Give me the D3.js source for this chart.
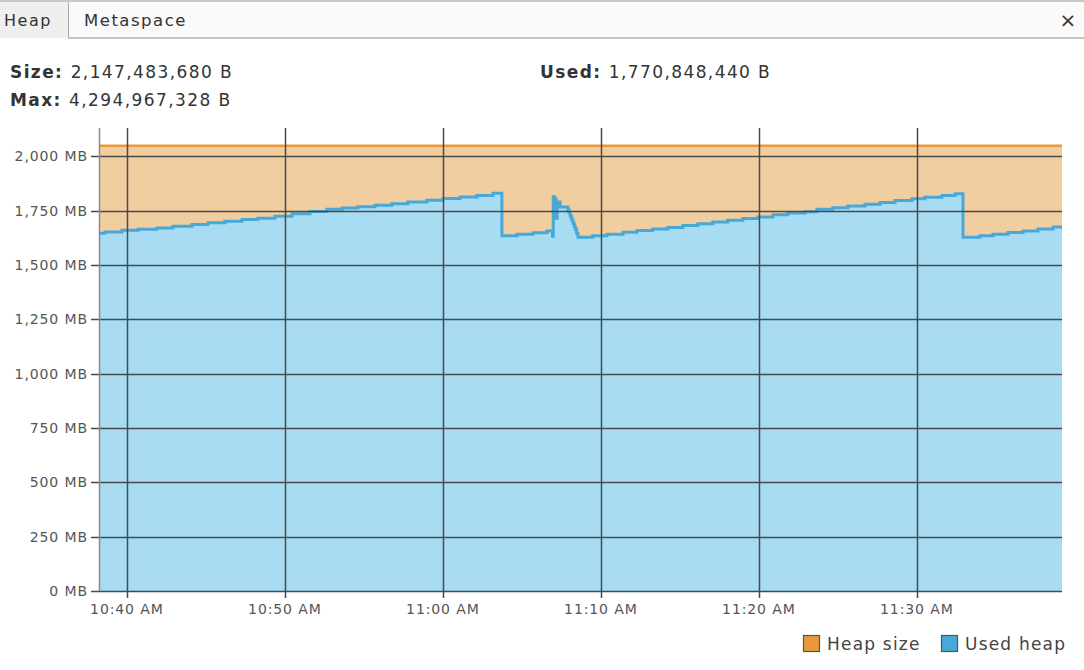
<!DOCTYPE html>
<html lang="en">
<head>
<meta charset="UTF-8">
<title>Heap</title>
<script src="https://cdn.jsdelivr.net/npm/d3@7"></script>
<style>
body {
    margin: 0;
    background: #fff;
    font-family: 'DejaVu Sans', Verdana, sans-serif;
    color: #333;
}
svg { display: block; }
</style>
</head>
<body>
<svg id="chart" width="1084" height="670"></svg>
<script>
// heap summary
const heapSizeBytes = "2,147,483,680 B";
const heapMaxBytes = "4,294,967,328 B";
const heapUsedBytes = "1,770,848,440 B";

const yTicks = [0, 250, 500, 750, 1000, 1250, 1500, 1750, 2000];
const xTickLabels = ["10:40:00", "10:50:00", "11:00:00", "11:10:00", "11:20:00", "11:30:00"];

const heapSizeMB = 2048;

// used heap samples (step after), MB
const usedTimes = [
  "10:38:14", "10:38:37", "10:39:41", "10:40:42", "10:41:54", "10:42:55", "10:44:07",
  "10:45:08", "10:46:12", "10:47:17", "10:48:17", "10:49:22", "10:50:27", "10:51:35",
  "10:52:39", "10:53:37", "10:54:37", "10:55:42", "10:56:46", "10:57:47", "10:58:59",
  "11:00:00", "11:01:05", "11:02:09", "11:03:10", "11:03:44", "11:04:41", "11:05:42",
  "11:06:35", "11:06:56", "11:06:59", "11:07:03", "11:07:06", "11:07:10", "11:07:14",
  "11:07:25", "11:07:51", "11:07:55", "11:07:59", "11:08:03", "11:08:07", "11:08:11",
  "11:08:15", "11:08:19", "11:08:23", "11:08:28", "11:08:33",
  "11:09:29", "11:10:23", "11:11:24", "11:12:17", "11:13:17", "11:14:14", "11:15:11",
  "11:16:08", "11:17:05", "11:18:02", "11:18:59", "11:19:56", "11:20:53", "11:21:50",
  "11:22:55", "11:23:40", "11:24:41", "11:25:38", "11:26:43", "11:27:40", "11:28:37",
  "11:29:41", "11:30:30", "11:31:35", "11:32:25", "11:32:55", "11:33:59", "11:34:49",
  "11:35:46", "11:36:43", "11:37:40", "11:38:37", "11:39:11"
];
const usedMB = [
  1646, 1652, 1660, 1664, 1670, 1678, 1686,
  1694, 1701, 1709, 1715, 1724, 1736, 1746,
  1756, 1762, 1768, 1775, 1782, 1790, 1798,
  1806, 1812, 1820, 1830, 1634, 1641, 1648,
  1656, 1632, 1814, 1720, 1805, 1715, 1790,
  1767, 1767, 1754, 1741, 1728, 1715, 1702,
  1689, 1676, 1663, 1645, 1627,
  1634, 1641, 1650, 1658, 1665, 1672, 1682,
  1689, 1698, 1706, 1714, 1721, 1731, 1739,
  1745, 1756, 1763, 1771, 1779, 1787, 1796,
  1804, 1811, 1819, 1828, 1627, 1634, 1641,
  1649, 1656, 1665, 1674, 1674
];

const parse = d3.timeParse("%H:%M:%S");
const used = usedTimes.map((t, i) => ({ t: parse(t), v: usedMB[i] }));

const svg = d3.select("#chart");
const W = 1084;

// tab bar
svg.append("rect").attr("x", 0).attr("y", 0).attr("width", W).attr("height", 38)
    .attr("fill", "#fafafa");
svg.append("line").attr("x1", 0).attr("x2", W).attr("y1", 1).attr("y2", 1)
    .attr("stroke", "#c8c8c8").attr("stroke-width", 2);
svg.append("rect").attr("x", 0).attr("y", 2).attr("width", 68).attr("height", 36)
    .attr("fill", "#efefef");
svg.append("line").attr("x1", 68.5).attr("x2", 68.5).attr("y1", 2).attr("y2", 38)
    .attr("stroke", "#a8a8a8");
svg.append("line").attr("x1", 68).attr("x2", W).attr("y1", 38).attr("y2", 38)
    .attr("stroke", "#b0b0b0").attr("stroke-width", 1.5);
svg.append("text").attr("x", 4).attr("y", 26).attr("font-size", 16).attr("letter-spacing", 1.5)
    .attr("fill", "#333").text("Heap");
svg.append("text").attr("x", 84).attr("y", 26).attr("font-size", 16.5).attr("letter-spacing", 1.5)
    .attr("fill", "#333").text("Metaspace");
svg.append("text").attr("x", 1068).attr("y", 27).attr("font-size", 20)
    .attr("text-anchor", "middle").attr("fill", "#333").text("\u00d7");

// summary lines
function stat(x, y, label, value) {
  const t = svg.append("text").attr("x", x).attr("y", y).attr("font-size", 17)
      .attr("letter-spacing", 1.4).attr("fill", "#333");
  t.append("tspan").attr("font-weight", "bold").text(label + " ");
  t.append("tspan").text(value);
}
stat(10, 78, "Size:", heapSizeBytes);
stat(10, 106, "Max:", heapMaxBytes);
stat(540, 78, "Used:", heapUsedBytes);

// scales
const x0 = 99, x1 = 1062, yTop = 128, yBot = 591;
const x = d3.scaleTime().domain([parse("10:38:14"), parse("11:39:11")]).range([x0, x1]);
const y = d3.scaleLinear().domain([0, 2130]).range([yBot, yTop]);

const plot = svg.append("g");

// heap size area
plot.append("rect").attr("x", x0).attr("width", x1 - x0)
    .attr("y", y(heapSizeMB)).attr("height", yBot - y(heapSizeMB))
    .attr("fill", "#f0cea0");

// used heap
const area = d3.area().curve(d3.curveStepAfter)
    .x(d => x(d.t)).y0(yBot).y1(d => y(d.v));
const line = d3.line().curve(d3.curveStepAfter)
    .x(d => x(d.t)).y(d => y(d.v));
plot.append("path").datum(used).attr("d", area).attr("fill", "#a8dcf2");
plot.append("path").datum(used).attr("d", line).attr("fill", "none")
    .attr("stroke", "#48a8d8").attr("stroke-width", 3);

// heap size line
plot.append("line").attr("x1", x0).attr("x2", x1)
    .attr("y1", y(heapSizeMB)).attr("y2", y(heapSizeMB))
    .attr("stroke", "#e89a3c").attr("stroke-width", 2.5);

// grid
const xTicks = xTickLabels.map(parse);
plot.selectAll(".hg").data(yTicks).join("line").attr("class", "hg")
    .attr("x1", x0 - 8).attr("x2", x1)
    .attr("y1", d => Math.round(y(d)) + 0.5).attr("y2", d => Math.round(y(d)) + 0.5)
    .attr("stroke", "#4a4a4a").attr("stroke-width", 1.5);
plot.selectAll(".vg").data(xTicks).join("line").attr("class", "vg")
    .attr("x1", d => Math.round(x(d)) + 0.5).attr("x2", d => Math.round(x(d)) + 0.5)
    .attr("y1", yTop).attr("y2", yBot + 7)
    .attr("stroke", "#4a4a4a").attr("stroke-width", 1.5);
plot.append("line").attr("x1", x0 + 0.5).attr("x2", x0 + 0.5).attr("y1", yTop).attr("y2", yBot)
    .attr("stroke", "#8a8a8a").attr("stroke-width", 1.5);

// axis labels
const fmt = d3.format(",");
plot.selectAll(".yl").data(yTicks).join("text").attr("class", "yl")
    .attr("x", x0 - 11).attr("y", d => y(d) + 5)
    .attr("text-anchor", "end").attr("font-size", 14).attr("letter-spacing", 0.9).attr("fill", "#555")
    .text(d => fmt(d) + " MB");
plot.selectAll(".xl").data(xTicks).join("text").attr("class", "xl")
    .attr("x", d => x(d)).attr("y", yBot + 23)
    .attr("text-anchor", "middle").attr("font-size", 14).attr("letter-spacing", 0.9).attr("fill", "#555")
    .text(d => d3.timeFormat("%I:%M %p")(d));

// legend
const legend = [
  { label: "Heap size", color: "#e89a3c", x: 803 },
  { label: "Used heap", color: "#48a8d8", x: 941 }
];
const lg = svg.append("g").selectAll("g").data(legend).join("g");
lg.append("rect").attr("x", d => d.x + 0.5).attr("y", 635.5).attr("width", 16).attr("height", 16)
    .attr("fill", d => d.color).attr("stroke", "#555").attr("stroke-width", 1.2);
lg.append("text").attr("x", d => d.x + 24).attr("y", 650).attr("font-size", 17)
    .attr("letter-spacing", 1.2).attr("fill", "#444")
    .text(d => d.label);
</script>
</body>
</html>
